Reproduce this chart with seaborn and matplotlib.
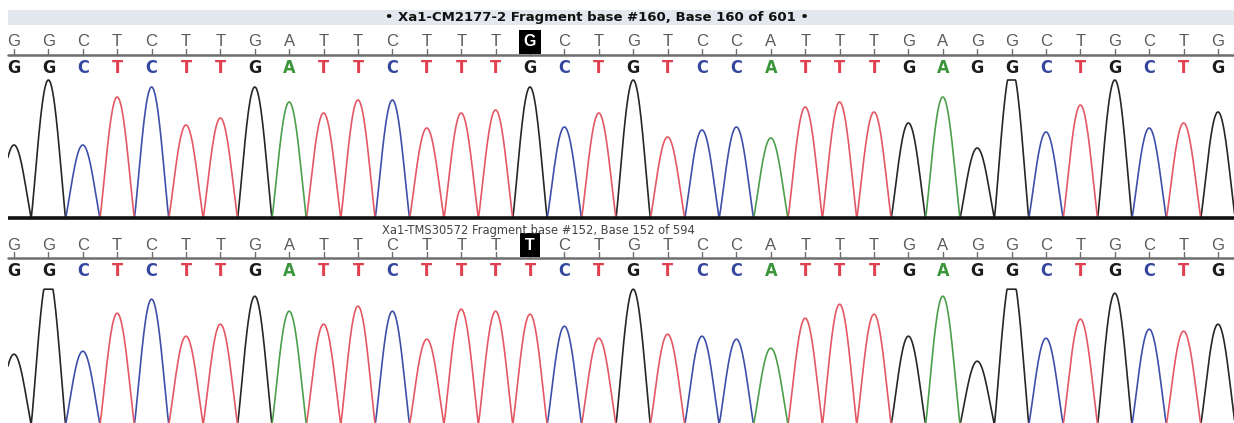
import numpy as np
import pandas as pd
import matplotlib.pyplot as plt
import seaborn as sns
from matplotlib.transforms import blended_transform_factory
from matplotlib.patches import Rectangle

# called bases (reference read on top, second read below)
top_seq = list('GGCTCTTGATTCTTTGCTGTCCATTTGAGGCTGCTG')
bottom_seq = list('GGCTCTTGATTCTTTTCTGTCCATTTGAGGCTGCTG')

# peak heights (pixels above baseline)
top_heights = [73, 138, 73, 121, 131, 93, 100, 131, 116, 105, 118, 118, 90, 105, 108, 131, 91, 105,
               138, 81, 88, 91, 80, 111, 116, 106, 95, 121, 70, 150, 86, 113, 138, 90, 95, 106]
bottom_heights = [70, 150, 73, 111, 125, 88, 100, 128, 113, 100, 118, 113, 85, 115, 113, 110, 98, 86,
                  135, 90, 88, 85, 76, 106, 120, 110, 88, 128, 63, 150, 86, 105, 131, 95, 93, 100]
top_cap, bottom_cap = 138, 135

top_title = '\u2022 Xa1-CM2177-2 Fragment base #160, Base 160 of 601 \u2022'
bottom_title = 'Xa1-TMS30572 Fragment base #152, Base 152 of 594'
highlight = 15

letter_colors = {'G': '#1c1c1c', 'C': '#33469e', 'T': '#e0404f', 'A': '#3a963a'}
trace_colors = {'G': '#262626', 'C': '#3e4fa8', 'T': '#e45865', 'A': '#4b9f4b'}


def peak(d, w=0.5):
    # arch-shaped peak that meets the baseline half a base away
    return np.where(np.abs(d) < w, np.cos(np.pi * d / (2 * w)), 0.0) ** 1.15


def make_trace(seq, heights, cap):
    x = np.linspace(-0.6, len(seq) - 0.4, 2400)
    frames = []
    for base in 'GCTA':
        y = np.zeros_like(x)
        for i, (b, h) in enumerate(zip(seq, heights)):
            if b == base:
                y += h * peak(x - i)
        frames.append(pd.DataFrame({'pos': x, 'signal': np.minimum(y, cap), 'base': base}))
    return pd.concat(frames, ignore_index=True)


W, H = 1234, 423
def fy(py):
    return 1 - py / H

sns.set_style('white')
fig = plt.figure(figsize=(W / 100, H / 100), dpi=100)

x0 = 8 / W
xlim = (-0.174, 35.465)

ax_top = fig.add_axes([x0, fy(221), 1 - x0, 146 / H])
ax_bot = fig.add_axes([x0, 0, 1 - x0, 143 / H])

panels = [
    (ax_top, top_seq, top_heights, top_cap, (-3, 143)),
    (ax_bot, bottom_seq, bottom_heights, bottom_cap, (1.2, 144.2)),
]
for ax, seq, heights, cap, ylim in panels:
    df = make_trace(seq, heights, cap)
    sns.lineplot(data=df, x='pos', y='signal', hue='base', palette=trace_colors,
                 estimator=None, sort=False, legend=False, lw=1.2, ax=ax)
    ax.set_xlim(*xlim)
    ax.set_ylim(*ylim)
    ax.axis('off')

ax_top.axhline(0, color='#111111', lw=2.6, zorder=5)

# header band
fig.add_artist(Rectangle((x0, fy(25)), 1 - x0, 15 / H, transform=fig.transFigure,
                         facecolor='#e3e8ef', edgecolor='none', zorder=0))

fig.text(597 / W, fy(18), top_title, ha='center', va='center', fontsize=9.5,
         fontweight='bold', family='DejaVu Sans', color='#111111')
fig.text(538 / W, fy(230), bottom_title, ha='center', va='center', fontsize=8.3,
         family='DejaVu Sans', color='#444444')

trans = blended_transform_factory(ax_top.transData, fig.transFigure)
rows = [(top_seq, 42, 55, 68), (bottom_seq, 245, 258, 271)]
for seq, y_gray, y_line, y_call in rows:
    ax_top.plot([xlim[0], xlim[1]], [fy(y_line), fy(y_line)], transform=trans,
                color='#6e6e6e', lw=1.8, clip_on=False)
    for i, b in enumerate(seq):
        ax_top.plot([i, i], [fy(y_line - 6), fy(y_line)], transform=trans,
                    color='#6e6e6e', lw=1.0, clip_on=False)
        if i == highlight:
            ax_top.text(i, fy(y_gray), b, transform=trans, ha='center', va='center',
                        fontsize=11.5, fontweight='bold', color='white',
                        family=['Liberation Sans', 'DejaVu Sans'],
                        bbox=dict(boxstyle='square,pad=0.3', fc='black', ec='none'))
        else:
            ax_top.text(i, fy(y_gray), b, transform=trans, ha='center', va='center',
                        fontsize=12, color='#5a5a5a',
                        family=['Liberation Sans', 'DejaVu Sans'])
        ax_top.text(i, fy(y_call), b, transform=trans, ha='center', va='center',
                    fontsize=13, fontweight='bold', color=letter_colors[b],
                    fontstretch='condensed',
                    family=['Liberation Sans Narrow', 'DejaVu Sans'])

fig.savefig('out.png', dpi=100)
